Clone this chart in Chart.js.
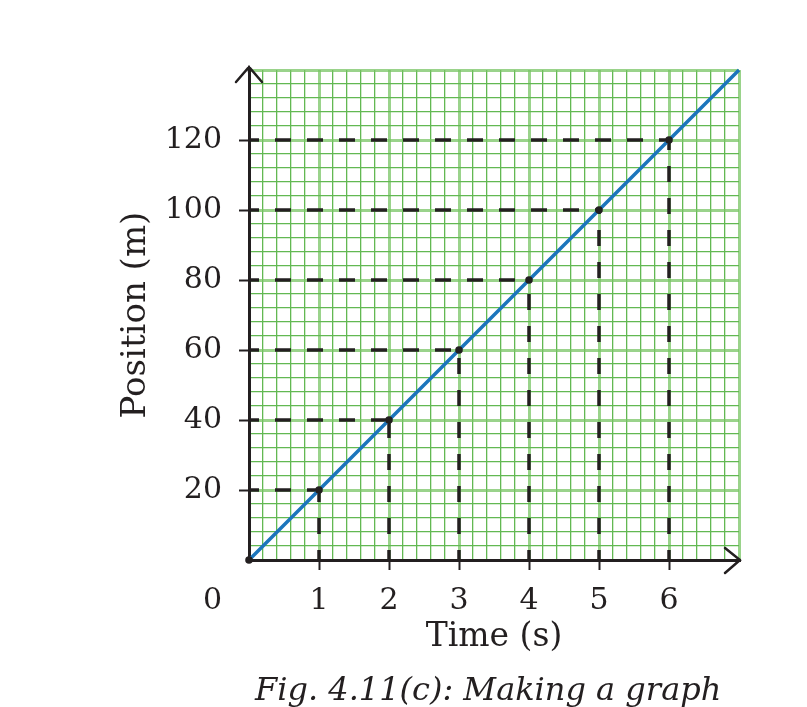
<!DOCTYPE html>
<html>
<head>
<meta charset="utf-8">
<script src="https://cdn.jsdelivr.net/npm/chart.js@4"></script>
<style>
  body { margin: 0; background: #fff; }
  #wrap { position: relative; width: 807px; height: 707px; overflow: hidden; }
  #caption {
    position: absolute; left: 255px; top: 670px;
    font-family: "DejaVu Serif", serif; font-style: italic; font-size: 32px;
    color: #231f20; white-space: nowrap;
  }
</style>
</head>
<body>
<div id="wrap">
  <canvas id="myChart" width="807" height="707"></canvas>
  <div id="caption">Fig. 4.11(c): Making a graph</div>
</div>
<script>
// line data
const times = [0, 1, 2, 3, 4, 5, 6, 7];
const positions = [0, 20, 40, 60, 80, 100, 120, 140];

const markedTimes = [1, 2, 3, 4, 5, 6];
const markedPositions = [20, 40, 60, 80, 100, 120];

// tick labels
const xTickLabels = ['1', '2', '3', '4', '5', '6'];
const yTickLabels = ['20', '40', '60', '80', '100', '120'];

const INK = '#231f20';
const BLUE = '#1c75bc';
const FONT = '"DejaVu Serif", serif';

function near(a, b) { return Math.abs(a - b) < 1e-6; }
function labelFor(v, vals, labels) {
  const i = vals.findIndex(t => near(t, v));
  return i >= 0 ? labels[i] : '';
}

const guideSets = [];
markedTimes.forEach((t, i) => {
  const p = markedPositions[i];
  guideSets.push({ data: [{x: 0, y: p}, {x: t, y: p}] });
  guideSets.push({ data: [{x: t, y: 0}, {x: t, y: p}] });
});

const axisArrows = {
  id: 'axisArrows',
  afterDraw(chart) {
    const {ctx, chartArea: a} = chart;
    ctx.save();
    ctx.strokeStyle = INK;
    ctx.lineWidth = 2.5;
    ctx.lineCap = 'round';
    // y axis arrow
    ctx.beginPath();
    ctx.moveTo(a.left, a.top + 2);
    ctx.lineTo(a.left, a.top - 3);
    ctx.moveTo(a.left - 13, a.top + 12);
    ctx.lineTo(a.left, a.top - 3);
    ctx.lineTo(a.left + 13, a.top + 12);
    // x axis arrow
    ctx.moveTo(a.right - 2, a.bottom);
    ctx.lineTo(a.right + 1, a.bottom);
    ctx.moveTo(a.right - 14, a.bottom - 12);
    ctx.lineTo(a.right + 1, a.bottom);
    ctx.lineTo(a.right - 14, a.bottom + 13);
    ctx.stroke();
    // origin label
    ctx.fillStyle = INK;
    ctx.font = '30px ' + FONT;
    ctx.textAlign = 'right';
    ctx.textBaseline = 'middle';
    ctx.fillText('0', a.left - 27, a.bottom + 41);
    ctx.restore();
  }
};

new Chart(document.getElementById('myChart'), {
  type: 'scatter',
  data: {
    datasets: [
      {
        data: [{x: 0, y: 0}].concat(markedTimes.map((t, i) => ({x: t, y: markedPositions[i]}))),
        showLine: false,
        pointRadius: 3.8,
        pointBackgroundColor: INK,
        pointBorderWidth: 0,
        order: 0,
        clip: false
      },
      {
        data: times.map((t, i) => ({x: t, y: positions[i]})),
        showLine: true,
        borderColor: BLUE,
        borderWidth: 3.5,
        pointRadius: 0,
        order: 1,
        clip: false
      }
    ].concat(guideSets.map(g => ({
      data: g.data,
      showLine: true,
      borderColor: INK,
      borderWidth: 3.5,
      borderDash: [16, 16],
      borderDashOffset: 6,
      pointRadius: 0,
      order: 2
    })))
  },
  options: {
    responsive: false,
    animation: false,
    layout: { padding: { top: 70, right: 68, left: 0, bottom: 0 } },
    plugins: { legend: { display: false }, tooltip: { enabled: false } },
    scales: {
      x: {
        type: 'linear',
        min: 0, max: 7,
        afterFit(s) { s.height = 147; },
        border: { display: true, color: INK, width: 3 },
        grid: {
          color: c => near(c.tick.value, Math.round(c.tick.value)) ? 'rgba(120,196,100,0.75)' : '#62b852',
          lineWidth: c => near(c.tick.value, Math.round(c.tick.value)) ? 3 : 1.3,
          tickColor: c => labelFor(c.tick.value, markedTimes, xTickLabels) ? INK : 'rgba(0,0,0,0)',
          tickWidth: 2,
          tickLength: 10
        },
        ticks: {
          stepSize: 0.2,
          autoSkip: false,
          maxRotation: 0,
          padding: 13,
          color: INK,
          font: { family: FONT, size: 30 },
          callback: v => labelFor(v, markedTimes, xTickLabels)
        },
        title: {
          display: true,
          text: 'Time (s)',
          color: INK,
          font: { family: FONT, size: 33 },
          padding: { top: 0, bottom: 50 }
        }
      },
      y: {
        type: 'linear',
        min: 0, max: 140,
        afterFit(s) { s.width = 249; },
        border: { display: true, color: INK, width: 3 },
        grid: {
          color: c => c.tick.value % 20 === 0 ? 'rgba(120,196,100,0.75)' : '#62b852',
          lineWidth: c => c.tick.value % 20 === 0 ? 3 : 1.3,
          tickColor: c => labelFor(c.tick.value, markedPositions, yTickLabels) ? INK : 'rgba(0,0,0,0)',
          tickWidth: 2,
          tickLength: 10
        },
        ticks: {
          stepSize: 4,
          autoSkip: false,
          padding: 17,
          color: INK,
          font: { family: FONT, size: 30 },
          callback: v => labelFor(v, markedPositions, yTickLabels)
        },
        title: {
          display: true,
          text: 'Position (m)',
          color: INK,
          font: { family: FONT, size: 34 },
          padding: { top: 116, bottom: 0 }
        }
      }
    }
  },
  plugins: [axisArrows]
});
</script>
</body>
</html>
